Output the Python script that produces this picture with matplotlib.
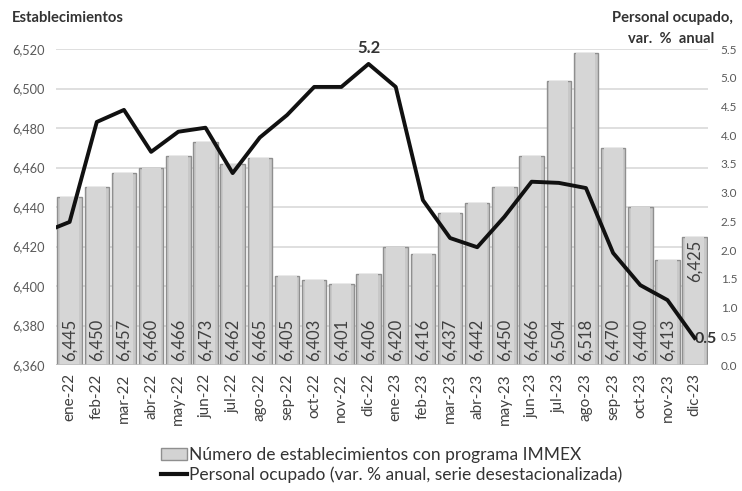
import numpy as np
import matplotlib
matplotlib.use("Agg")
import matplotlib.pyplot as plt
from matplotlib.patches import Patch
from matplotlib.lines import Line2D

plt.rcParams["font.family"] = ["Lato", "DejaVu Sans"]

months = ["ene-22", "feb-22", "mar-22", "abr-22", "may-22", "jun-22", "jul-22", "ago-22",
          "sep-22", "oct-22", "nov-22", "dic-22", "ene-23", "feb-23", "mar-23", "abr-23",
          "may-23", "jun-23", "jul-23", "ago-23", "sep-23", "oct-23", "nov-23", "dic-23"]
establecimientos = [6445, 6450, 6457, 6460, 6466, 6473, 6462, 6465, 6405, 6403, 6401, 6406,
                    6420, 6416, 6437, 6442, 6450, 6466, 6504, 6518, 6470, 6440, 6413, 6425]
# first value is dic-21, only partly visible at the left edge
personal = [2.3, 2.49, 4.23, 4.44, 3.71, 4.06, 4.13, 3.34, 3.96, 4.35, 4.84, 4.84, 5.24,
            4.84, 2.87, 2.21, 2.05, 2.58, 3.19, 3.17, 3.08, 1.95, 1.39, 1.13, 0.47]

txt = "#595959"
dark = "#404040"

fig = plt.figure(figsize=(7.42, 4.91), dpi=100)
ax = fig.add_axes([0.0755, 0.2566, 0.879, 0.6436])
x = np.arange(len(months))

# bars with a soft bevel: dark outline, lighter inner face
ax.bar(x, establecimientos, width=0.9, bottom=0, color="#c8c8c8",
       edgecolor="#8f8f8f", linewidth=1.0, zorder=2)
ax.bar(x, establecimientos, width=0.7, bottom=0, color="#d6d6d6",
       linewidth=0, zorder=2)
ax.set_ylim(6360, 6520)
ax.set_yticks(np.arange(6360, 6521, 20))
ax.set_yticklabels([f"{v:,}" for v in range(6360, 6521, 20)], color=txt, fontsize=9.2)
ax.set_xlim(-0.5, len(months) - 0.5)
ax.set_xticks(x)
ax.set_xticklabels(months, rotation=90, color=dark, fontsize=11)
ax.grid(axis="y", color="#d9d9d9", linewidth=1.2, zorder=0)
ax.tick_params(axis="y", length=0, pad=8)
ax.tick_params(axis="x", length=0, pad=6)
for s in ax.spines.values():
    s.set_visible(False)
ax.axhline(6360, color="#bfbfbf", linewidth=1.2, zorder=3)

for i, v in enumerate(establecimientos):
    base = 6402 if i == len(establecimientos) - 1 else 6362
    ax.text(i, base, f"{v:,}", rotation=90, ha="center", va="bottom",
            fontsize=12, color=dark, zorder=4)

ax2 = ax.twinx()
xl = np.arange(-1, len(months))
ax2.plot(xl, personal, color="#111111", linewidth=2.8, zorder=5, clip_on=True)
ax2.set_ylim(0, 5.5)
ax2.set_yticks(np.arange(0, 5.51, 0.5))
ax2.set_yticklabels([f"{v:.1f}" for v in np.arange(0, 5.51, 0.5)], color=txt, fontsize=8.5)
ax2.tick_params(length=0, pad=9)
ax2.set_xlim(-0.5, len(months) - 0.5)
for s in ax2.spines.values():
    s.set_visible(False)

ax2.annotate("5.2", (11, personal[12]), xytext=(0, 6), textcoords="offset points",
             ha="center", va="bottom", fontsize=12, fontweight="bold", color="#333333")
ax2.annotate("0.5", (23, personal[-1]), xytext=(0, -1), textcoords="offset points",
             ha="left", va="center", fontsize=11.5, fontweight="bold", color="#333333")

fig.text(0.016, 0.955, "Establecimientos", fontsize=10.6, fontweight="bold", color="#333333")
fig.text(0.988, 0.955, "Personal ocupado,", fontsize=10.6, fontweight="bold",
         color="#333333", ha="right")
fig.text(0.962, 0.912, "var.  %  anual", fontsize=10.6, fontweight="bold",
         color="#333333", ha="right")

handles = [Patch(facecolor="#d3d3d3", edgecolor="#8f8f8f"),
           Line2D([0], [0], color="#111111", linewidth=3)]
labels = ["Número de establecimientos con programa IMMEX",
          "Personal ocupado (var. % anual, serie desestacionalizada)"]
fig.legend(handles, labels, loc="center left", bbox_to_anchor=(0.205, 0.052), ncol=1,
           frameon=False, fontsize=12.5, labelcolor="#333333", handlelength=1.5,
           handletextpad=0.1, labelspacing=0.2, borderpad=0)

fig.savefig("out.png", dpi=100)
